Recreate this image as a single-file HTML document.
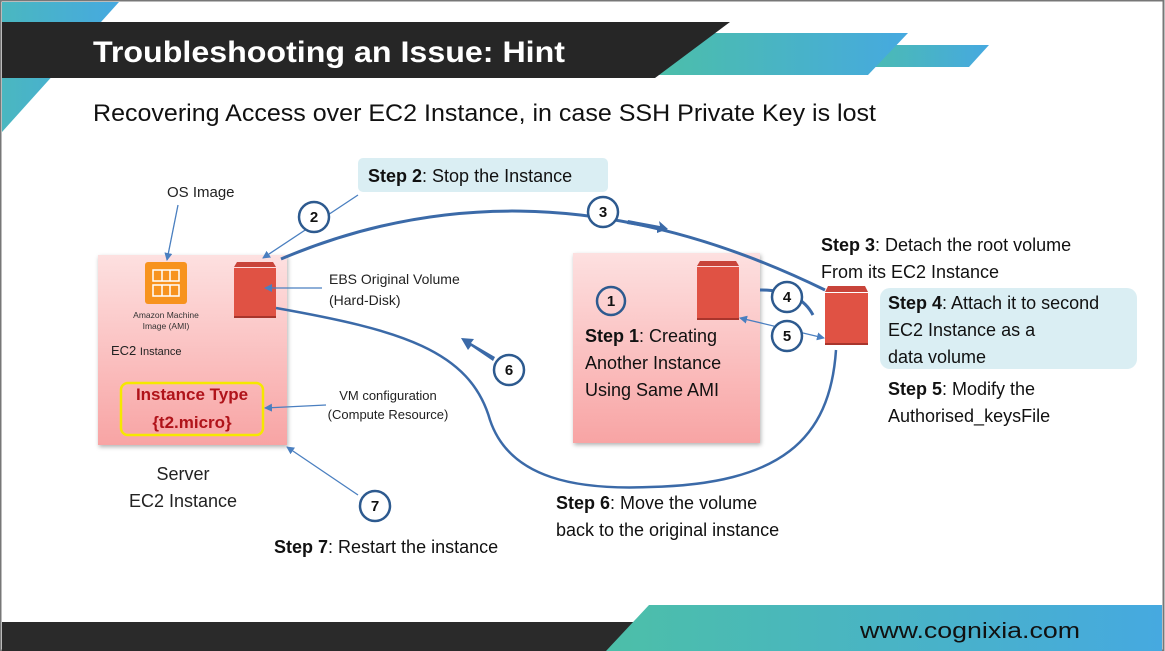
<!DOCTYPE html>
<html><head><meta charset="utf-8"><style>
html,body{margin:0;padding:0;background:#fff;}
svg{display:block;}
text{font-family:"Liberation Sans",sans-serif;}
</style></head><body>
<svg width="1165" height="651" viewBox="0 0 1165 651" xmlns="http://www.w3.org/2000/svg">
<defs>
<linearGradient id="tl" x1="0" y1="0" x2="1" y2="0"><stop offset="0" stop-color="#4ab7c0"/><stop offset="1" stop-color="#46a9e0"/></linearGradient>
<linearGradient id="tb" x1="0" y1="0" x2="1" y2="0"><stop offset="0" stop-color="#4cbfa8"/><stop offset="1" stop-color="#46a9e0"/></linearGradient>
<linearGradient id="pk" x1="0" y1="0" x2="0" y2="1"><stop offset="0" stop-color="#fde0e0"/><stop offset="1" stop-color="#f8a4a4"/></linearGradient>
<marker id="ah" markerWidth="8" markerHeight="8" refX="7" refY="4" orient="auto" markerUnits="userSpaceOnUse"><path d="M0,0 L8,4 L0,8 z" fill="#4a7fc0"/></marker>
<marker id="ahs" markerWidth="8" markerHeight="8" refX="1" refY="4" orient="auto" markerUnits="userSpaceOnUse"><path d="M8,0 L0,4 L8,8 z" fill="#4a7fc0"/></marker>
</defs>
<rect x="0" y="0" width="1165" height="651" fill="#fff"/>
<rect x="0.5" y="0.5" width="1163" height="650" fill="none" stroke="#777" stroke-width="2"/>
<!-- top decorations -->
<polygon points="2,2 119,2 2,132" fill="url(#tl)"/>
<polygon points="860,45 989,45 969,67 845,67" fill="url(#tb)"/>
<polygon points="690,33 908,33 868,75 650,75" fill="url(#tb)"/>
<polygon points="2,22 730,22 655,78 2,78" fill="#262626"/>
<text x="93" y="62" font-size="30" font-weight="bold" fill="#fff" textLength="472" lengthAdjust="spacingAndGlyphs">Troubleshooting an Issue: Hint</text>
<text x="93" y="121" font-size="24" fill="#111" textLength="783" lengthAdjust="spacingAndGlyphs">Recovering Access over EC2 Instance, in case SSH Private Key is lost</text>
<!-- bottom -->
<rect x="2" y="622" width="640" height="29" fill="#2a2a2a"/>
<polygon points="649,605 1162,605 1162,651 606,651" fill="url(#tb)"/>
<text x="860" y="638" font-size="22" fill="#111" textLength="220" lengthAdjust="spacingAndGlyphs">www.cognixia.com</text>

<!-- left box -->
<rect x="98" y="255" width="189" height="190" fill="url(#pk)" style="filter:drop-shadow(1px 2px 2px rgba(0,0,0,0.3))"/>
<rect x="145" y="262" width="42" height="42" rx="3" fill="#f7931e"/>
<g stroke="#fff" stroke-width="1.5" fill="none"><rect x="153" y="270" width="26" height="11"/><rect x="153" y="285" width="26" height="11"/><line x1="162" y1="270" x2="162" y2="281"/><line x1="170" y1="270" x2="170" y2="281"/><line x1="162" y1="285" x2="162" y2="296"/><line x1="170" y1="285" x2="170" y2="296"/></g>
<text x="166" y="318" font-size="8.5" fill="#333" text-anchor="middle">Amazon Machine</text>
<text x="166" y="329" font-size="8.5" fill="#333" text-anchor="middle">Image (AMI)</text>
<text x="111" y="355" font-size="13" fill="#222">EC2 <tspan font-size="11">Instance</tspan></text>
<rect x="121" y="383" width="142" height="52" rx="7" fill="none" stroke="#f5e800" stroke-width="2.5"/>
<text x="192" y="400" font-size="17" font-weight="bold" fill="#b0131a" text-anchor="middle">Instance Type</text>
<text x="192" y="428" font-size="17" font-weight="bold" fill="#b0131a" text-anchor="middle">{t2.micro}</text>
<!-- volume 1 -->
<g><polygon points="237,262 273,262 276,267 234,267" fill="#c8443a"/><rect x="234" y="268" width="42" height="50" fill="#e05244"/><rect x="234" y="316" width="42" height="2" fill="#a8352c"/></g>

<!-- right box -->
<rect x="573" y="253" width="187" height="190" fill="url(#pk)" style="filter:drop-shadow(1px 2px 2px rgba(0,0,0,0.3))"/>
<g><polygon points="700,261 736,261 739,266 697,266" fill="#c8443a"/><rect x="697" y="267" width="42" height="53" fill="#e05244"/><rect x="697" y="318" width="42" height="2" fill="#a8352c"/></g>
<g><polygon points="828,286 865,286 868,292 825,292" fill="#c8443a"/><rect x="825" y="293" width="43" height="52" fill="#e05244"/><rect x="825" y="343" width="43" height="2" fill="#a8352c"/></g>

<!-- highlight boxes -->
<rect x="358" y="158" width="250" height="34" rx="5" fill="#daeef3"/>
<rect x="880" y="288" width="257" height="81" rx="10" fill="#daeef3"/>

<!-- curves -->
<g fill="none" stroke="#3b6aa8" stroke-width="3">
<path d="M281,259 C420,200 600,180 825,290"/>
<path d="M276,308 C400,330 470,350 490,420 C510,480 580,490 650,487 C780,484 830,440 836,350" stroke-width="2.5"/>
<path d="M760,290 C790,290 805,300 813,315"/>
</g>
<polygon points="628,220 660,226 659,221 668,229 657,233 657,229 627,224" fill="#3b6aa8"/>
<polygon points="493,361 471,346 468,350 461,338 474,339 471,343 495,357" fill="#3b6aa8"/>

<!-- thin arrows -->
<g stroke="#4a7fc0" stroke-width="1.3" fill="none">
<line x1="358" y1="195" x2="263" y2="258" marker-end="url(#ah)"/>
<line x1="178" y1="205" x2="167" y2="260" marker-end="url(#ah)"/>
<line x1="322" y1="288" x2="265" y2="288" marker-end="url(#ah)"/>
<line x1="326" y1="405" x2="265" y2="408" marker-end="url(#ah)"/>
<line x1="358" y1="495" x2="287" y2="447" marker-end="url(#ah)"/>
<line x1="740" y1="318" x2="824" y2="338" marker-start="url(#ahs)" marker-end="url(#ah)"/>
</g>

<!-- numbered circles -->
<g fill="#fff" stroke="#2d5a8f" stroke-width="2.5">
<circle cx="314" cy="217" r="15"/><circle cx="603" cy="212" r="15"/><circle cx="611" cy="301" r="14" fill="none"/>
<circle cx="787" cy="297" r="15"/><circle cx="787" cy="336" r="15"/><circle cx="509" cy="370" r="15"/><circle cx="375" cy="506" r="15"/>
</g>
<g font-size="15" font-weight="bold" fill="#111" text-anchor="middle">
<text x="314" y="222">2</text><text x="603" y="217">3</text><text x="611" y="306">1</text><text x="787" y="302">4</text><text x="787" y="341">5</text><text x="509" y="375">6</text><text x="375" y="511">7</text>
</g>

<!-- labels -->
<g fill="#222">
<text x="167" y="197" font-size="15">OS Image</text>
<text x="329" y="284" font-size="14">EBS Original Volume</text>
<text x="329" y="305" font-size="14">(Hard-Disk)</text>
<text x="388" y="400" font-size="13" text-anchor="middle">VM configuration</text>
<text x="388" y="419" font-size="13" text-anchor="middle">(Compute Resource)</text>
<text x="183" y="480" font-size="18" text-anchor="middle">Server</text>
<text x="183" y="507" font-size="18" text-anchor="middle">EC2 Instance</text>
</g>
<g fill="#111" font-size="18">
<text x="368" y="182"><tspan font-weight="bold">Step 2</tspan>: Stop the Instance</text>
<text x="585" y="342"><tspan font-weight="bold">Step 1</tspan>: Creating</text>
<text x="585" y="369">Another Instance</text>
<text x="585" y="396">Using Same AMI</text>
<text x="821" y="251"><tspan font-weight="bold">Step 3</tspan>: Detach the root volume</text>
<text x="821" y="278">From its EC2 Instance</text>
<text x="888" y="309"><tspan font-weight="bold">Step 4</tspan>: Attach it to second</text>
<text x="888" y="336">EC2 Instance as a</text>
<text x="888" y="363">data volume</text>
<text x="888" y="395"><tspan font-weight="bold">Step 5</tspan>: Modify the</text>
<text x="888" y="422">Authorised_keysFile</text>
<text x="556" y="509"><tspan font-weight="bold">Step 6</tspan>: Move the volume</text>
<text x="556" y="536">back to the original instance</text>
<text x="274" y="553"><tspan font-weight="bold">Step 7</tspan>: Restart the instance</text>
</g>
</svg>
</body></html>
